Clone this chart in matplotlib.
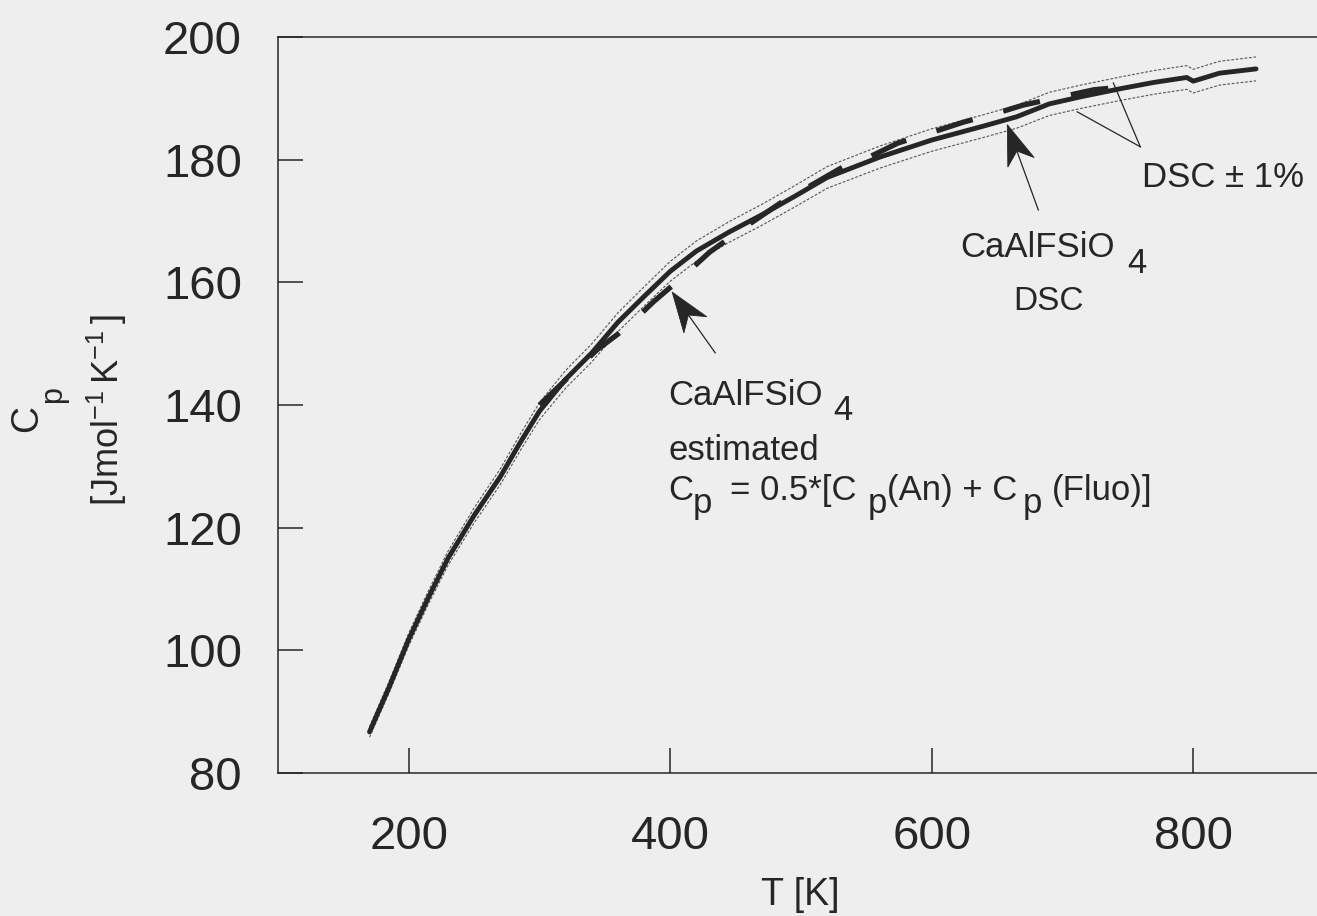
import numpy as np
import matplotlib
matplotlib.use("Agg")
import matplotlib.pyplot as plt
from matplotlib.patches import Polygon

plt.rcParams["font.family"] = ["Liberation Sans", "DejaVu Sans"]
plt.rcParams["mathtext.fontset"] = "custom"
plt.rcParams["mathtext.rm"] = "Liberation Sans"

# Messkurve DSC, CaAlFSiO4
dsc_T = [170, 185, 200, 215, 230, 250, 270, 285, 300, 320, 340, 360, 380, 400,
         420, 445, 470, 495, 520, 560, 600, 640, 665, 690, 715, 745, 770, 795,
         800, 820, 848]
dsc_cp = [86.7, 94.0, 101.8, 108.6, 115.0, 122.0, 128.3, 133.8, 139.0, 144.2,
          148.5, 153.5, 157.7, 161.8, 165.1, 168.2, 171.0, 174.0, 177.1, 180.4,
          183.2, 185.5, 187.0, 189.1, 190.3, 191.6, 192.6, 193.4, 192.8, 194.1,
          194.8]
dsc_band = 0.01  # DSC +/- 1 %

# geschaetzt: Cp = 0.5*[Cp(An) + Cp(Fluo)]
est_T = [300, 344, 367, 387, 410, 430, 455, 484, 532, 551, 574, 601, 624, 650,
         670, 696, 724, 748]
est_cp = [140.0, 149.0, 152.7, 156.8, 161.0, 164.9, 168.7, 172.9, 178.8, 180.3,
          182.7, 184.5, 186.1, 187.6, 188.9, 190.1, 191.4, 191.9]

x_ticks = [200, 400, 600, 800]
y_ticks = [80, 100, 120, 140, 160, 180, 200]

ink = "#262626"
paper = "#eeeeee"
W, H = 1317, 916


def pieces(ax, x, y, parts, size=25):
    """Text aus Teilen mit Pixelversatz (fuer tiefgestellte Zeichen)."""
    for text, dx, dy in parts:
        ax.annotate(text, xy=(x, y), xytext=(dx, dy), textcoords="offset pixels",
                    ha="left", va="baseline", fontsize=size, color=ink)


def pfeil(ax, tip, tail, length=40, half=14, notch=28):
    """Pfeil mit eingekerbter Spitze, Masse in Pixeln."""
    p0 = ax.transData.transform(tip)
    p1 = ax.transData.transform(tail)
    d = (p1 - p0) / np.hypot(*(p1 - p0))
    n = np.array([-d[1], d[0]])
    base = p0 + d * length
    head = [p0, base + n * half, p0 + d * notch, base - n * half]
    ax.add_patch(Polygon(head, closed=True, transform=None, facecolor=ink,
                         edgecolor=ink, lw=0.6, zorder=6))
    ax.plot([(p0 + d * notch)[0], p1[0]], [(p0 + d * notch)[1], p1[1]],
            transform=None, color=ink, lw=0.9, zorder=6)


fig = plt.figure(figsize=(W / 100, H / 100), dpi=100, facecolor=paper)
ax = fig.add_axes([278 / W, 1 - 773 / H, (1324 - 278) / W, (773 - 37) / H])
ax.set_facecolor(paper)

upper = [c * (1 + dsc_band) for c in dsc_cp]
lower = [c * (1 - dsc_band) for c in dsc_cp]
ax.plot(dsc_T, upper, color="#555555", lw=0.8, ls=(0, (2.5, 1.5)), zorder=2)
ax.plot(dsc_T, lower, color="#555555", lw=0.8, ls=(0, (2.5, 1.5)), zorder=2)
ax.plot(dsc_T, dsc_cp, color=ink, lw=3.5, solid_capstyle="round", zorder=3)
ax.plot(est_T, est_cp, color=ink, lw=3.8, ls=(0, (7.2, 6.0)), zorder=4)

ax.set_xlim(100, 900)
ax.set_ylim(80, 200)
ax.set_xticks(x_ticks)
ax.set_yticks(y_ticks)
ax.tick_params(direction="in", length=18, width=1.1, colors=ink,
               labelsize=34, pad=26, top=False, right=False)
ax.tick_params(axis="x", pad=30)
for side in ["left", "bottom", "top"]:
    ax.spines[side].set_color(ink)
    ax.spines[side].set_linewidth(1.1)
ax.spines["right"].set_visible(False)

# Beschriftung geschaetzte Kurve
pfeil(ax, (401.5, 158.4), (434.4, 148.5))
pieces(ax, 398.4, 140.0, [("CaAlFSiO", 0, 0), ("4", 165, -15)])
pieces(ax, 398.4, 131.0, [("estimated", 0, 0)])
pieces(ax, 398.4, 124.5, [("C", 0, 0), ("p", 25, -13), ("= 0.5*[C", 62, 0),
                          ("p", 200, -13), ("(An) + C", 219, 0),
                          ("p", 355, -13), ("(Fluo)]", 384, 0)])

# Beschriftung DSC-Kurve
pfeil(ax, (657.8, 185.7), (681.5, 171.8))
pieces(ax, 621.8, 164.1, [("CaAlFSiO", 0, 0), ("4", 167, -16)])
pieces(ax, 662.4, 155.5, [("DSC", 0, 0)], size=24)

# DSC +/- 1 %
ax.plot([759.5, 711.3], [182.1, 187.8], color=ink, lw=0.9)
ax.plot([759.5, 738.9], [182.1, 192.5], color=ink, lw=0.9)
pieces(ax, 761.0, 175.5, [("DSC \u00b1 1%", 0, 0)])

# Achsentitel
fig.text(800 / W, 1 - 905 / H, "T [K]", ha="center", va="baseline",
         fontsize=27, color=ink)
fig.text(27 / W, 1 - 418 / H, "C", rotation=90, ha="center", va="center",
         fontsize=27, color=ink)
fig.text(53 / W, 1 - 395 / H, "p", rotation=90, ha="center", va="center",
         fontsize=22, color=ink)
fig.text(107 / W, 1 - 410 / H, r"$\mathregular{[Jmol^{-1}\,K^{-1}\,]}$",
         rotation=90, ha="center", va="center", fontsize=26, color=ink)

fig.savefig("out.png", dpi=100, facecolor=paper)
